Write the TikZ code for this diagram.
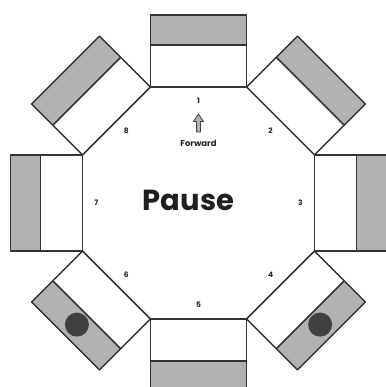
\documentclass[tikz,border=0pt]{standalone}
\usepackage{fontspec}
\setmainfont{Poppins}
\usetikzlibrary{positioning}

\begin{document}
\begin{tikzpicture}[
  x=1pt,y=1pt,
  edge/.style={line width=1.5pt,draw=black!80,line join=round},
  shade/.style={fill=black!30},
  dot/.style={fill=black!75},
  num/.style={font=\bfseries\fontsize{7.5}{7.5}\selectfont,text=black!85,inner sep=0pt},
  cue/.style={font=\bfseries\fontsize{8.5}{8.5}\selectfont,text=black!85,inner sep=0pt},
  big/.style={font=\bfseries\fontsize{29}{29}\selectfont,text=black!88,inner sep=0pt},
  fwd/.style={line width=0.8pt,draw=black!75,fill=black!30,line join=round}
]
\useasboundingbox (0,0) rectangle (385,387);
\coordinate (O) at (198.5,184);

% ================= pads round the octagon =================
\foreach \k/\ang in {1/90,2/45,3/0,4/-45,5/-90,6/-135,7/180,8/135} {
  \begin{scope}[shift={(O)},rotate=\ang]
    \fill[shade] (158,-48) rectangle (188,48);
    \draw[edge] (116,-48) rectangle (188,48);
    \draw[edge] (158,-48) -- (158,48);
    \node[num] (n\k) at (102,0) {\k};
  \end{scope}
}

% stops on pads 4 and 6
\begin{scope}[shift={(O)}]
  \fill[dot] (-45:172) circle (12);
  \fill[dot] (-135:172) circle (12);
\end{scope}

% ================= centre =================
\draw[fwd] (198.5,273) -- (193.5,265.5) -- (196.5,265.5) -- (196.5,255)
  -- (200.5,255) -- (200.5,265.5) -- (203.5,265.5) -- cycle;
\node[cue] (forward) at (198.5,244) {Forward};
\node[big] (pause) at (188.5,187) {Pause};

\end{tikzpicture}
\end{document}
